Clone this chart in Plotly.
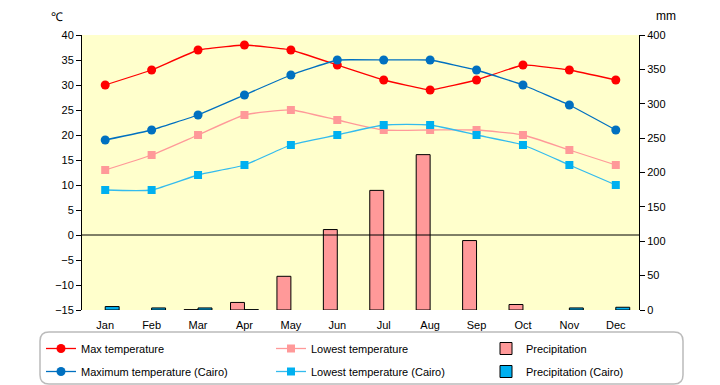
import plotly.graph_objects as go

months = ["Jan", "Feb", "Mar", "Apr", "May", "Jun", "Jul", "Aug", "Sep", "Oct", "Nov", "Dec"]
max_temp = [30, 33, 37, 38, 37, 34, 31, 29, 31, 34, 33, 31]
low_temp = [13, 16, 20, 24, 25, 23, 21, 21, 21, 20, 17, 14]
precip = [None, None, 0.5, 11, 49, 117, 174, 226, 101, 8, None, None]
max_temp_cairo = [19, 21, 24, 28, 32, 35, 35, 35, 33, 30, 26, 21]
low_temp_cairo = [9, 9, 12, 14, 18, 20, 22, 22, 20, 18, 14, 10]
precip_cairo = [5, 3, 3, 0.5, None, None, None, None, None, None, 3, 4]

temp_ticks = list(range(-15, 41, 5))
mm_ticks = list(range(0, 401, 50))

W, H = 720, 385
L, R, T, B = 82, 81, 35, 75
PW, PH = W - L - R, H - T - B


def px(xp):
    return (xp - L) / PW


def py(yp):
    return 1 - (yp - T) / PH


FONT = "Liberation Sans, Arial, sans-serif"

fig = go.Figure()

fig.add_trace(go.Bar(x=months, y=precip, name="Precipitation", yaxis="y",
                     marker=dict(color="#FF9999", line=dict(color="black", width=1)),
                     legend="legend3", legendgroup="p1"))
fig.add_trace(go.Bar(x=months, y=precip_cairo, name="Precipitation (Cairo)", yaxis="y",
                     marker=dict(color="#00B0F0", line=dict(color="black", width=1)),
                     legend="legend3", legendgroup="p2"))

fig.add_trace(go.Scatter(x=months, y=max_temp, name="Max temperature", yaxis="y2",
                         mode="lines+markers", line=dict(color="#FF0000", width=1.3, shape="spline", smoothing=0.25),
                         marker=dict(symbol="circle", size=9, color="#FF0000"),
                         legend="legend", legendgroup="a1"))
fig.add_trace(go.Scatter(x=months, y=max_temp_cairo, name="Maximum temperature (Cairo)", yaxis="y2",
                         mode="lines+markers", line=dict(color="#0070C0", width=1.3, shape="spline", smoothing=0.25),
                         marker=dict(symbol="circle", size=9, color="#0070C0"),
                         legend="legend", legendgroup="a2"))
fig.add_trace(go.Scatter(x=months, y=low_temp, name="Lowest temperature", yaxis="y2",
                         mode="lines+markers", line=dict(color="#FF9999", width=1.3, shape="spline", smoothing=0.5),
                         marker=dict(symbol="square", size=8, color="#FF9999"),
                         legend="legend2", legendgroup="b1"))
fig.add_trace(go.Scatter(x=months, y=low_temp_cairo, name="Lowest temperature (Cairo)", yaxis="y2",
                         mode="lines+markers", line=dict(color="#33BBEE", width=1.3, shape="spline", smoothing=0.5),
                         marker=dict(symbol="square", size=8, color="#00B0F0"),
                         legend="legend2", legendgroup="b2"))

leg_common = dict(bgcolor="rgba(0,0,0,0)", borderwidth=0, font=dict(family=FONT, size=11, color="black"),
                  yanchor="top", xanchor="left", tracegroupgap=4, orientation="v")

# rounded legend box
x0, x1, y0, y1, r = 40, 683, 332, 384, 9
def P(xp, yp):
    return f"{px(xp)},{py(yp)}"
path = (f"M {P(x0 + r, y0)} L {P(x1 - r, y0)} Q {P(x1, y0)} {P(x1, y0 + r)} "
        f"L {P(x1, y1 - r)} Q {P(x1, y1)} {P(x1 - r, y1)} L {P(x0 + r, y1)} "
        f"Q {P(x0, y1)} {P(x0, y1 - r)} L {P(x0, y0 + r)} Q {P(x0, y0)} {P(x0 + r, y0)} Z")

fig.update_layout(
    width=W, height=H,
    margin=dict(l=L, r=R, t=T, b=B, autoexpand=False),
    paper_bgcolor="white",
    plot_bgcolor="#FFFFCC",
    font=dict(family=FONT, size=11, color="black"),
    barmode="group",
    bargap=0.4,
    bargroupgap=0,
    xaxis=dict(type="category", range=[-0.5, len(months) - 0.5], showline=False, showgrid=False,
               zeroline=False, ticks="outside", ticklen=5, tickcolor="rgba(0,0,0,0)",
               tickfont=dict(size=11)),
    yaxis=dict(side="right", range=[0, 400], tickvals=mm_ticks, showline=True, linecolor="black",
               linewidth=1, ticks="outside", ticklen=5, tickcolor="black",
               showgrid=False, zeroline=False, tickfont=dict(size=11)),
    yaxis2=dict(overlaying="y", side="left", range=[-15, 40], tickvals=temp_ticks, showline=True,
                linecolor="black", linewidth=1, ticks="outside", ticklen=5, tickcolor="black",
                showgrid=False, zeroline=False, tickfont=dict(size=11)),
    legend=dict(x=px(41), y=py(334), **leg_common),
    legend2=dict(x=px(271), y=py(334), **leg_common),
    legend3=dict(x=px(486), y=py(334), **leg_common),
    shapes=[
        dict(type="line", xref="paper", x0=0, x1=1, yref="y2", y0=0, y1=0,
             line=dict(color="black", width=1), layer="above"),
        dict(type="path", xref="paper", yref="paper", path=path,
             line=dict(color="#BBBBBB", width=1.5), fillcolor="rgba(0,0,0,0)"),
    ],
    annotations=[
        dict(text="℃", xref="paper", yref="paper", x=px(57), y=py(17), xanchor="center",
             yanchor="middle", showarrow=False, font=dict(size=12)),
        dict(text="mm", xref="paper", yref="paper", x=px(666), y=py(16), xanchor="center",
             yanchor="middle", showarrow=False, font=dict(size=12)),
    ],
    showlegend=True,
)

fig.write_html("out.html",
               config={"displayModeBar": False},
               post_script="document.body.style.margin='0';document.body.style.overflow='hidden';")
